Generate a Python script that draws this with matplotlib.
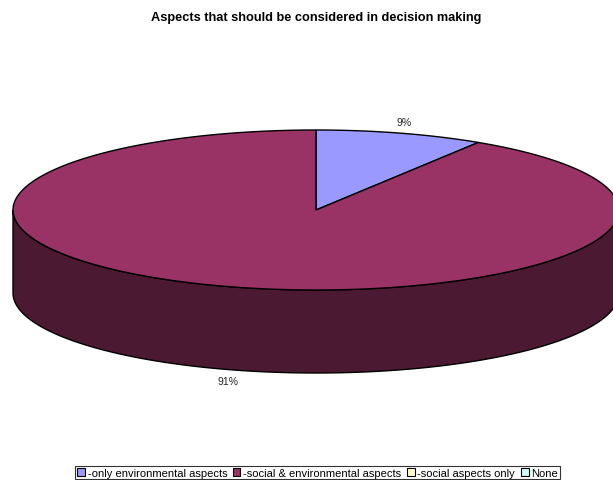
import numpy as np
import matplotlib.pyplot as plt
from matplotlib.patches import Patch, Polygon

plt.rcParams['font.family'] = ['Liberation Sans', 'DejaVu Sans']

# survey answers (percent)
categories = ['-only environmental aspects', '-social & environmental aspects',
              '-social aspects only', 'None']
shares = [9, 91, 0, 0]
top_colors = ['#9999FF', '#993366', '#FFFFCC', '#CCFFFF']
side_colors = ['#4D4D80', '#4B1A32', '#808066', '#668080']

W, H = 613, 481
cx, cy = 316, 211      # centre of the pie top
rx, ry = 303, 80       # ellipse radii
depth = 83             # thickness of the disc

fig = plt.figure(figsize=(W / 100, H / 100), dpi=100)
ax = fig.add_axes([0, 0, 1, 1])
ax.set_xlim(0, W)
ax.set_ylim(H, 0)
ax.axis('off')


def pt(t, dy=0.0):
    t = np.radians(t)
    return cx + rx * np.cos(t), cy - ry * np.sin(t) + dy


total = float(sum(shares))
starts, ends = [], []
a = 90.0
for v in shares:
    starts.append(a)
    a -= v / total * 360.0
    ends.append(a)

# side walls: only the front half of the rim (180..360 deg) is visible
for s, e, sc, v in zip(starts, ends, side_colors, shares):
    if v == 0:
        continue
    for k in (-360, 0, 360):
        lo = max(e, -180 + k)
        hi = min(s, 0 + k)
        if hi <= lo:
            continue
        t = np.linspace(lo, hi, 200)
        x, y = pt(t)
        xs = np.concatenate([x, x[::-1]])
        ys = np.concatenate([y, (y + depth)[::-1]])
        ax.add_patch(Polygon(np.column_stack([xs, ys]), closed=True,
                             facecolor=sc, edgecolor='black', lw=1.0, zorder=1))

# top faces
for s, e, tc, v in zip(starts, ends, top_colors, shares):
    if v == 0:
        continue
    t = np.linspace(s, e, 400)
    x, y = pt(t)
    xs = np.concatenate([[cx], x, [cx]])
    ys = np.concatenate([[cy], y, [cy]])
    ax.add_patch(Polygon(np.column_stack([xs, ys]), closed=True,
                         facecolor=tc, edgecolor='black', lw=1.0, zorder=2))

# percentage labels outside the rim
for s, e, v in zip(starts, ends, shares):
    if v == 0:
        continue
    m = (s + e) / 2.0
    x, y = pt(m)
    dx = 12 * np.cos(np.radians(m))
    dy = -12 * np.sin(np.radians(m))
    if np.sin(np.radians(m)) < 0:
        dy += depth
    ax.text(x + dx, y + dy, f'{v}%', ha='center', va='center', fontsize=7.5,
            color='#222222')

fig.text(316 / W, 1 - 18 / H, 'Aspects that should be considered in decision making',
         ha='center', va='center', fontsize=9.2, fontweight='bold')

handles = [Patch(facecolor=c, edgecolor='black', lw=0.8) for c in top_colors]
leg = fig.legend(handles, categories, loc='lower center', bbox_to_anchor=(0.518, 0.0),
                 ncol=4, fontsize=8, frameon=True, fancybox=False,
                 handlelength=0.7, handleheight=0.7, handletextpad=0.25,
                 columnspacing=0.5, borderpad=0.15, borderaxespad=0.05)
leg.get_frame().set_edgecolor('black')
leg.get_frame().set_linewidth(0.8)

fig.savefig('out.png', dpi=100)
